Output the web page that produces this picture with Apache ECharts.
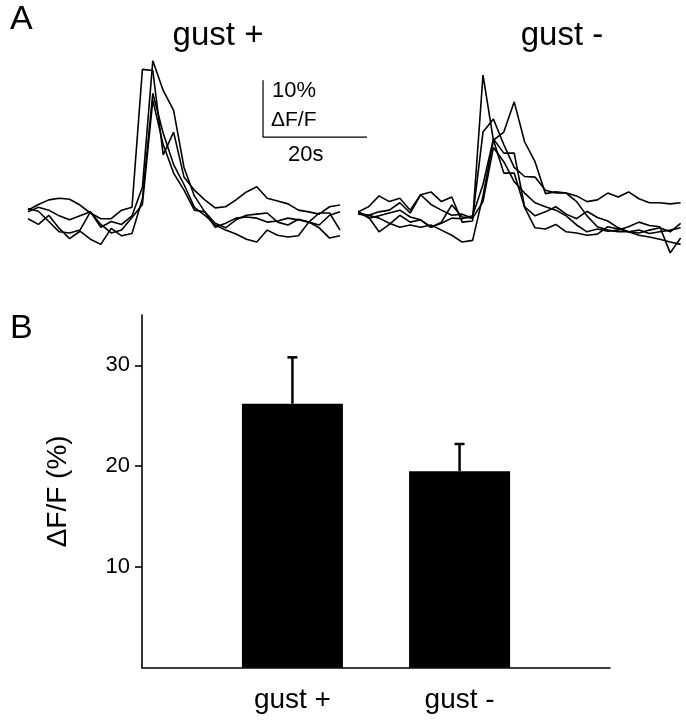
<!DOCTYPE html>
<html>
<head>
<meta charset="utf-8">
<script src="https://cdn.jsdelivr.net/npm/echarts@6/dist/echarts.min.js"></script>
<style>
html,body{margin:0;padding:0;background:#fff;}
#chart{width:686px;height:720px;}
</style>
</head>
<body>
<div id="chart"></div>
<script>
// frame times (s), one frame every 2 s
const leftTimes = [0,2,4,6,8,10,12,14,16,18,20,22,24,26,28,30,32,34,36,38,40,42,44,46,48,50,52,54,56,58,60];
const rightTimes = [0,2,4,6,8,10,12,14,16,18,20,22,24,26,28,30,32,34,36,38,40,42,44,46,48,50,52,54,56,58,60,62];

// dF/F (%) traces, gust +
const gustPlus1 = [0.5,1.5,2.3,2.6,2.4,1.4,0.0,-1.0,-1.0,0.5,1.0,25.2,25.0,10.2,14.2,6.3,4.0,2.3,0.9,1.1,2.3,3.7,4.6,2.6,2.1,1.6,0.5,0.2,-0.2,1.1,1.4];
const gustPlus2 = [0.2,1.0,0.5,-0.5,-1.2,-0.5,0.2,-2.5,-1.5,-2.0,-0.5,4.5,26.7,21.5,18.0,8.0,3.0,0.2,-1.8,-2.6,-1.2,-0.4,-0.2,0.0,-1.6,-2.1,-1.1,-1.6,-2.1,-0.4,0.2];
const gustPlus3 = [-1.0,-2.0,-0.4,-2.7,-4.5,-3.2,-4.6,-5.5,-2.7,-4.0,-3.6,2.5,21.0,14.0,8.5,5.0,1.0,-0.4,-2.1,-3.0,-3.7,-4.6,-5.1,-3.0,-3.9,-4.2,-4.0,-1.6,-2.6,-4.4,-4.0];
const gustPlus4 = [0.8,0.3,-1.5,-3.3,-3.5,-3.0,0.2,-2.0,-3.5,-3.0,-0.8,1.5,19.8,12.0,7.0,4.0,0.5,0.2,-2.5,-1.8,-0.9,-0.7,-0.9,-1.6,-1.4,-0.9,-1.2,-1.6,0.0,0.0,-3.0];

// dF/F (%) traces, gust -
const gustMinus1 = [0.2,1.1,3.0,2.0,2.6,0.5,3.2,3.7,2.0,2.8,-1.6,-1.4,24.2,12.8,7.0,7.0,1.0,-2.6,-2.8,-2.0,-3.3,-3.5,-3.9,-3.7,-2.4,-2.8,-3.3,-3.5,-3.0,-2.6,-3.3,-1.8];
const gustMinus2 = [0.0,-0.7,-3.3,-2.0,-0.4,-1.6,-1.2,-2.5,-1.6,1.4,-0.7,-0.9,14.2,16.5,12.0,8.0,6.4,6.3,4.0,3.5,3.5,3.0,2.0,2.3,3.5,2.8,3.7,2.5,1.8,1.8,1.6,1.8];
const gustMinus3 = [-0.2,-0.4,-0.9,-1.8,-2.5,-2.1,-2.5,-2.1,-3.0,-3.9,-5.1,-4.8,3.0,12.8,14.2,19.5,12.5,9.0,3.4,3.7,3.5,2.0,-0.5,-2.4,-3.0,-3.3,-3.3,-3.0,-3.6,-3.3,-3.0,-2.6];
const gustMinus4 = [0.3,-0.9,-0.5,0.0,0.5,-0.7,-1.2,-2.5,-1.8,-0.9,-1.0,-0.5,5.0,13.0,10.5,10.5,1.1,-0.5,0.2,1.1,-0.2,-1.0,0.3,-0.8,-1.4,-2.6,-3.3,-3.9,-4.2,-4.6,-5.1,-5.5];
const gustMinus5 = [0.0,-0.4,0.2,0.5,1.8,0.0,3.2,1.5,0.5,-0.4,-0.2,-0.9,2.0,11.5,9.0,5.5,3.5,1.8,1.1,0.5,-0.5,-2.1,-3.3,-2.8,-3.2,-3.0,-2.4,-1.6,-2.2,-2.4,-7.0,-4.4];

// scale bar: 20 s by 10 % dF/F
const scaleSeconds = 20;
const scalePercent = 10;
const scaleOrigin = [45.2, 13.3];

// panel B
const groups = ['gust +', 'gust -'];
const meanDff = [26.2, 19.5];
const semDff = [4.6, 2.7];
const yTicks = [10, 20, 30];

let myChart = echarts.init(document.getElementById('chart'));
const FONT = 'Liberation Sans, Arial, sans-serif';

function pairs(times, vals) {
    let out = [];
    for (let i = 0; i < vals.length; i++) {
        out.push([times[i], vals[i]]);
    }
    return out;
}

function traceSeries(vals, times, idx) {
    return {
        type: 'line',
        xAxisIndex: idx,
        yAxisIndex: idx,
        data: pairs(times, vals),
        showSymbol: false,
        symbol: 'none',
        animation: false,
        silent: true,
        lineStyle: {color: '#000', width: 1.6}
    };
}

// 14 slots so the two bars sit where they do in the figure
let slots = [];
for (let i = 0; i < 14; i++) slots.push('');
slots[4] = groups[0];
slots[9] = groups[1];
let barData = slots.map(function (s) {
    let j = groups.indexOf(s);
    return j >= 0 ? meanDff[j] : '-';
});
let errData = [];
groups.forEach(function (g, j) {
    errData.push([slots.indexOf(g), meanDff[j], meanDff[j] + semDff[j]]);
});

let series = [];
[gustPlus1, gustPlus2, gustPlus3, gustPlus4].forEach(function (v) {
    series.push(traceSeries(v, leftTimes, 0));
});
[gustMinus1, gustMinus2, gustMinus3, gustMinus4, gustMinus5].forEach(function (v) {
    series.push(traceSeries(v, rightTimes, 1));
});
series.push({
    type: 'line',
    xAxisIndex: 0,
    yAxisIndex: 0,
    clip: false,
    symbol: 'none',
    animation: false,
    lineStyle: {color: '#000', width: 1.2},
    data: [
        [scaleOrigin[0], scaleOrigin[1] + scalePercent],
        [scaleOrigin[0], scaleOrigin[1]],
        [scaleOrigin[0] + scaleSeconds, scaleOrigin[1]]
    ]
});
series.push({
    type: 'bar',
    xAxisIndex: 2,
    yAxisIndex: 2,
    data: barData,
    barWidth: 101,
    animation: false,
    itemStyle: {color: '#000'}
});
series.push({
    type: 'custom',
    xAxisIndex: 2,
    yAxisIndex: 2,
    data: errData,
    animation: false,
    renderItem: function (params, api) {
        let base = api.coord([api.value(0), api.value(1)]);
        let top = api.coord([api.value(0), api.value(2)]);
        let st = {stroke: '#000', lineWidth: 2.5};
        return {
            type: 'group',
            children: [
                {type: 'line', shape: {x1: base[0], y1: base[1], x2: top[0], y2: top[1]}, style: st},
                {type: 'line', shape: {x1: top[0] - 5, y1: top[1], x2: top[0] + 5, y2: top[1]}, style: st}
            ]
        };
    }
});

function label(text, x, y, size) {
    return {type: 'text', x: x, y: y, style: {text: text, font: size + 'px ' + FONT, fill: '#000'}};
}

let option = {
    backgroundColor: '#fff',
    textStyle: {fontFamily: FONT},
    grid: [
        {left: 28, top: 53.4, width: 343.2, height: 205.2},
        {left: 358.2, top: 53.4, width: 322.4, height: 205.2},
        {left: 142, top: 315, width: 468, height: 352.7}
    ],
    xAxis: [
        {gridIndex: 0, type: 'value', min: 0, max: 66, show: false},
        {gridIndex: 1, type: 'value', min: 0, max: 62, show: false},
        {
            gridIndex: 2, type: 'category', data: slots, boundaryGap: true,
            axisLine: {lineStyle: {color: '#000', width: 1.6}},
            axisTick: {show: false},
            axisLabel: {interval: 0, color: '#000', fontSize: 28, margin: 19, fontFamily: FONT}
        }
    ],
    yAxis: [
        {gridIndex: 0, type: 'value', min: -8, max: 28, show: false},
        {gridIndex: 1, type: 'value', min: -8, max: 28, show: false},
        {
            gridIndex: 2, type: 'value', min: 0, max: 35, interval: 10,
            name: 'ΔF/F (%)', nameLocation: 'middle', nameRotate: 90, nameGap: 70,
            nameTextStyle: {color: '#000', fontSize: 28, fontFamily: FONT},
            splitLine: {show: false},
            axisLine: {show: true, lineStyle: {color: '#000', width: 1.6}},
            axisTick: {show: true, customValues: yTicks, length: 7, lineStyle: {color: '#000', width: 1.6}},
            axisLabel: {customValues: yTicks, color: '#000', fontSize: 22, margin: 12, fontFamily: FONT}
        }
    ],
    graphic: [
        label('A', 10, 3, 34),
        label('B', 10, 312, 34),
        {type: 'text', x: 218, y: 19, style: {text: 'gust +', font: '33px ' + FONT, fill: '#000', align: 'center'}},
        {type: 'text', x: 562, y: 19, style: {text: 'gust -', font: '33px ' + FONT, fill: '#000', align: 'center'}},
        label('10%', 272, 80, 22),
        label('ΔF/F', 271, 110, 21),
        label('20s', 288, 144, 22)
    ],
    series: series
};
myChart.setOption(option);
</script>
</body>
</html>
